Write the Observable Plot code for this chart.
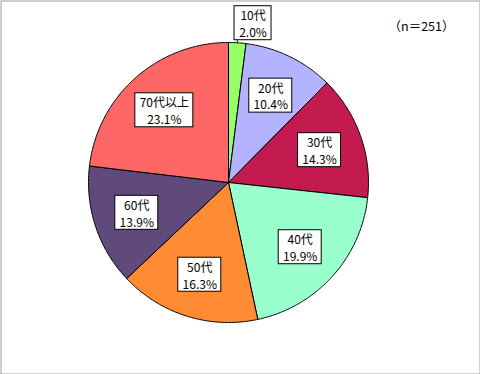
<!DOCTYPE html>
<html><head><meta charset="utf-8">
<script src="https://cdn.jsdelivr.net/npm/d3@7"></script>
<script src="https://cdn.jsdelivr.net/npm/@observablehq/plot@0.6"></script>
<style>body{margin:0;background:#fff}#c svg{display:block}</style>
</head><body><div id="c"></div>
<script>
const categories = ["10代","20代","30代","40代","50代","60代","70代以上"];
const values = [2.0, 10.4, 14.3, 19.9, 16.3, 13.9, 23.1];
const colors = ["#99ff66","#b3b3ff","#c31a4f","#99ffcc","#ff8c33","#604a7b","#ff6666"];
const note = "（n＝251）";

const W = 480, H = 374, cx = 228, cy = 182, R = 140;
const font = "12px 'Noto Sans CJK JP', sans-serif";
const ctx = document.createElement("canvas").getContext("2d");
ctx.font = font;

const total = d3.sum(values);
const pie = d3.pie().sort(null).value(d => d.v)(categories.map((c,i)=>({c, v: values[i]})));
const pt = (a, r) => [cx + r*Math.sin(a), cy - r*Math.cos(a)];

const slicePts = [];
pie.forEach(p => {
  const n = Math.max(2, Math.ceil((p.endAngle - p.startAngle)/0.01));
  const arr = [pt(0,0)];
  for (let k=0;k<=n;k++) arr.push(pt(p.startAngle + (p.endAngle-p.startAngle)*k/n, R));
  arr.push(pt(0,0));
  arr.forEach(([x,y]) => slicePts.push({c: p.data.c, x, y}));
});

const labels = pie.map(p => {
  const pct = p.data.v.toFixed(1) + "%";
  const text = p.data.c + "\n" + pct;
  const tw = Math.max(ctx.measureText(p.data.c).width, ctx.measureText(pct).width);
  const bw = Math.round(tw) + 9, bh = 34;
  const mid = (p.startAngle + p.endAngle)/2;
  const outside = p.data.v / total < 0.05;
  let [x, y] = pt(mid, outside ? R*1.14 : R*0.69);
  let lead = null;
  if (outside) {
    x += (bw/2 - 4) * Math.sign(Math.sin(mid) || 1);
    lead = {x1: pt(mid, R)[0], y1: pt(mid, R)[1], x2: pt(mid, R)[0], y2: y + bh/2};
  }
  return {text, x, y, x1: x-bw/2, x2: x+bw/2, y1: y-bh/2, y2: y+bh/2, lead};
});
const leads = labels.filter(d => d.lead).map(d => d.lead);

const chart = Plot.plot({
  width: W, height: H, margin: 0,
  x: {domain: [0, W], range: [0, W], axis: null},
  y: {domain: [0, H], range: [0, H], axis: null},
  color: {domain: categories, range: colors},
  style: {fontFamily: "'Noto Sans CJK JP', sans-serif", background: "#fff"},
  marks: [
    Plot.line(slicePts, {x: "x", y: "y", z: "c", fill: "c", stroke: "#000", strokeWidth: 1, curve: "linear-closed"}),
    Plot.link(leads, {x1: "x1", y1: "y1", x2: "x2", y2: "y2", stroke: "#000"}),
    Plot.rect(labels, {x1: "x1", x2: "x2", y1: "y1", y2: "y2", fill: "#fff", stroke: "#000", strokeWidth: 1}),
    Plot.text(labels, {x: "x", y: "y", text: "text", fontSize: 12, lineHeight: 1.4, fill: "#000"}),
    Plot.text([note], {x: [421], y: [26], text: d => d, fontSize: 12.5, fill: "#000"}),
    Plot.frame({stroke: "#a0a0a0", inset: 0.5})
  ]
});
document.getElementById("c").appendChild(chart);
</script></body></html>
